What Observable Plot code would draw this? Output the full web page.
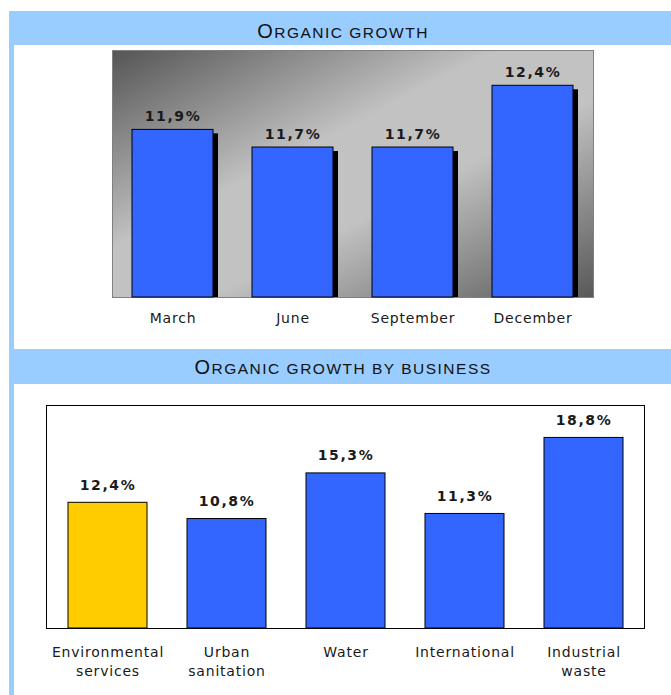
<!DOCTYPE html>
<html>
<head>
<meta charset="utf-8">
<script src="https://cdn.jsdelivr.net/npm/d3@7"></script>
<script src="https://cdn.jsdelivr.net/npm/@observablehq/plot@0.6"></script>
<style>
  html, body { margin: 0; padding: 0; background: #ffffff; }
  body { position: relative; width: 671px; height: 695px; overflow: hidden; }
  .sidebar { position: absolute; left: 9px; top: 11px; width: 5px; height: 684px; background: #99CCFF; }
  .hdr { position: absolute; left: 9px; width: 662px; background: #99CCFF; text-align: center; color: #111; font-family: "Liberation Sans", Arial, sans-serif; }
  .hdr .t { position: relative; left: 3px; letter-spacing: 1.5px; white-space: nowrap; }
  .hdr .big { font-size: 20px; }
  .hdr .small { font-size: 15.5px; }
  .chart { position: absolute; left: 0; }
  .chart svg { overflow: visible; }
  .chart g[aria-label="text"] text { letter-spacing: 1.6px; }
  .chart g[aria-label="x-axis tick label"] text { letter-spacing: 0.8px; }
</style>
</head>
<body>
<div class="sidebar"></div>
<div class="hdr" id="h1" style="top:11px;height:34px;"><div class="t" style="top:2.5px;line-height:34px;"></div></div>
<div class="chart" id="c1" style="top:45px;"></div>
<div class="hdr" id="h2" style="top:349px;height:35px;"><div class="t" style="top:1.3px;line-height:35px;"></div></div>
<div class="chart" id="c2" style="top:384px;"></div>
<script>
// ---- data ----
const titles = ["Organic growth", "Organic growth by business"];
const months = ["March", "June", "September", "December"];
const monthGrowth = [11.9, 11.7, 11.7, 12.4];
const businesses = ["Environmental services", "Urban sanitation", "Water", "International", "Industrial waste"];
const businessTickLabels = ["Environmental\nservices", "Urban\nsanitation", "Water", "International", "Industrial\nwaste"];
const businessGrowth = [12.4, 10.8, 15.3, 11.3, 18.8];
const highlighted = ["Environmental services"];
const monthDomain = [10, 12.8];
const businessDomain = [0, 22];

const fmt = v => d3.format(".1f")(v).replace(".", ",") + "%";

// ---- titles (small caps imitation) ----
function setTitle(id, text) {
  const el = document.querySelector("#" + id + " .t");
  const up = text.toUpperCase();
  el.innerHTML = "";
  const b = document.createElement("span"); b.className = "big"; b.textContent = up[0];
  const s = document.createElement("span"); s.className = "small"; s.textContent = up.slice(1);
  el.appendChild(b); el.appendChild(s);
}
setTitle("h1", titles[0]);
setTitle("h2", titles[1]);

// ---- chart 1 ----
const topData = months.map((m, i) => ({month: m, value: monthGrowth[i]}));
const chart1 = Plot.plot({
  width: 671,
  height: 300,
  marginTop: 5,
  marginBottom: 48,
  marginLeft: 112,
  marginRight: 78,
  style: {fontFamily: "'DejaVu Sans', Verdana, sans-serif", fontSize: "14px", color: "#1a1a1a", background: "transparent"},
  x: {domain: months, paddingInner: 0.325, paddingOuter: 0.1625, label: null, tickSize: 0, tickPadding: 16},
  y: {domain: monthDomain, axis: null},
  marks: [
    Plot.frame({fill: "url(#bggrad)", stroke: "#808080"}),
    Plot.barY(topData, {x: "month", y1: monthDomain[0], y2: "value", fill: "black", dx: 5, dy: 4, clip: true}),
    Plot.barY(topData, {x: "month", y1: monthDomain[0], y2: "value", fill: "#3366FF", stroke: "black", strokeWidth: 1}),
    Plot.text(topData, {x: "month", y: "value", text: d => fmt(d.value), dy: -13, fontWeight: "bold", fontSize: 14, fill: "#1a1a1a"})
  ]
});
d3.select(chart1).insert("defs", ":first-child").html(
  '<linearGradient id="bggrad" x1="0" y1="0" x2="1" y2="1">' +
  '<stop offset="0" stop-color="#555555"/>' +
  '<stop offset="0.4" stop-color="#c2c2c2"/>' +
  '<stop offset="0.6" stop-color="#c2c2c2"/>' +
  '<stop offset="1" stop-color="#585858"/>' +
  '</linearGradient>');
document.getElementById("c1").appendChild(chart1);

// ---- chart 2 ----
const botData = businesses.map((b, i) => ({name: b, value: businessGrowth[i], group: highlighted.includes(b) ? "hi" : "lo"}));
const chart2 = Plot.plot({
  width: 671,
  height: 311,
  marginTop: 21,
  marginBottom: 67,
  marginLeft: 46,
  marginRight: 27,
  style: {fontFamily: "'DejaVu Sans', Verdana, sans-serif", fontSize: "14px", color: "#1a1a1a", background: "transparent"},
  x: {domain: businesses, paddingInner: 0.34, paddingOuter: 0.17, label: null, axis: null},
  y: {domain: businessDomain, axis: null},
  color: {domain: ["hi", "lo"], range: ["#FFCC00", "#3366FF"]},
  marks: [
    Plot.frame({fill: "white", stroke: "black"}),
    Plot.barY(botData, {x: "name", y: "value", fill: "group", stroke: "black", strokeWidth: 1}),
    Plot.text(botData, {x: "name", y: "value", text: d => fmt(d.value), dy: -17.5, fontWeight: "bold", fontSize: 14, fill: "#1a1a1a"}),
    Plot.axisX({tickSize: 0, tickPadding: 15, lineHeight: 1.36, label: null, tickFormat: d => businessTickLabels[businesses.indexOf(d)]})
  ]
});
document.getElementById("c2").appendChild(chart2);
</script>
</body>
</html>
